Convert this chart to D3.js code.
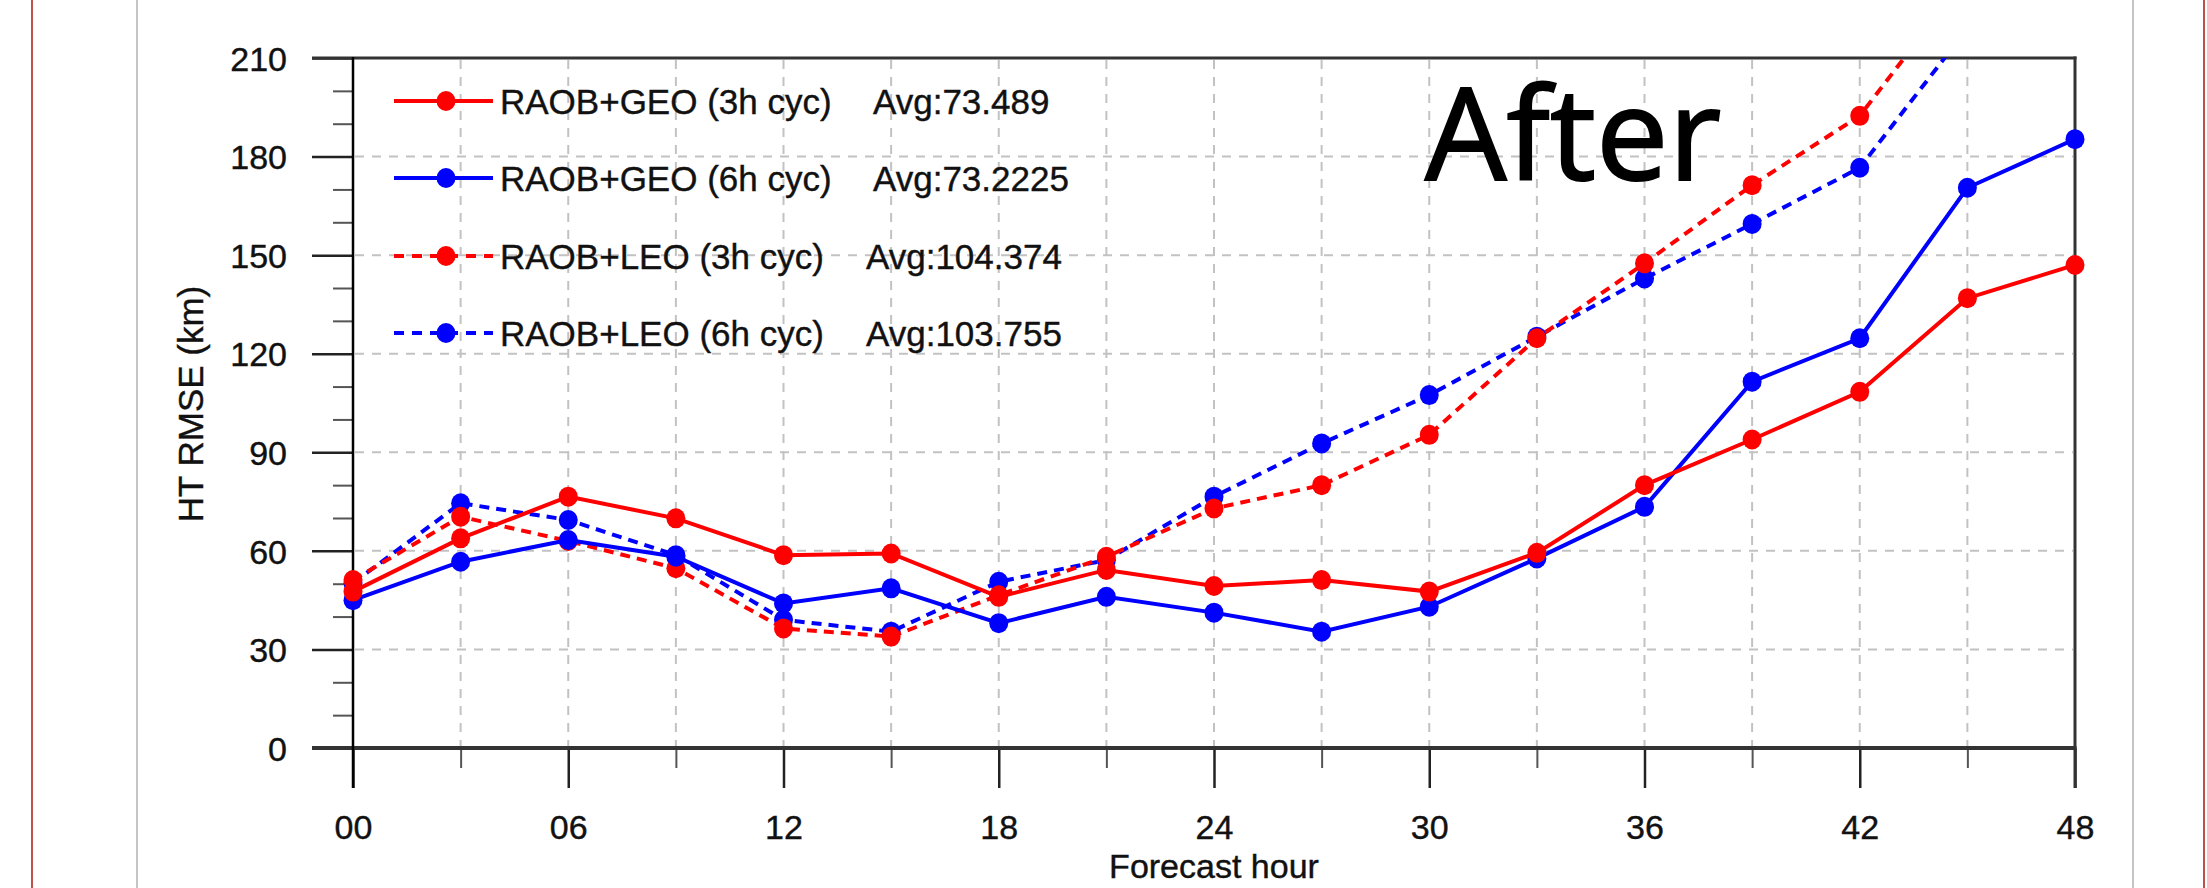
<!DOCTYPE html>
<html><head><meta charset="utf-8">
<script src="https://cdn.jsdelivr.net/npm/d3@7"></script>
<style>body{margin:0;background:#fff}svg{display:block}</style>
</head><body>
<svg id="chart" width="2207" height="888"></svg>
<script>
// ---- data ----
const hours = [0,3,6,9,12,15,18,21,24,27,30,33,36,39,42,45,48];
const geo3h = [47.6,63.8,76.5,69.9,58.7,59.2,46.0,54.2,49.3,51.1,47.6,59.4,80.0,93.9,108.4,136.9,147.0];
const geo6h = [45.0,56.7,63.3,58.2,44.0,48.6,38.0,46.0,41.2,35.4,43.0,57.7,73.4,111.5,124.7,170.5,185.3];
const leo3h = [51.1,70.4,63.0,54.7,36.4,33.9,46.5,58.2,72.9,80.0,95.3,124.7,147.5,171.3,192.4,235,241];
const leo6h = [50.2,74.5,69.4,58.7,39.0,35.4,50.6,57.2,76.5,92.7,107.4,125.2,142.9,159.5,176.6,219,229];
const seriesNames = ["RAOB+GEO (3h cyc)","RAOB+GEO (6h cyc)","RAOB+LEO (3h cyc)","RAOB+LEO (6h cyc)"];
const seriesAvg = ["Avg:73.489","Avg:73.2225","Avg:104.374","Avg:103.755"];
const yTicks = [0,30,60,90,120,150,180,210];
const yMinor = [10,20,40,50,70,80,100,110,130,140,160,170,190,200];
const xMajor = [0,6,12,18,24,30,36,42,48];
const xTickLabels = ["00","06","12","18","24","30","36","42","48"];
const xMinor = [3,9,15,21,27,33,39,45];
const yTitle = "HT RMSE (km)";
const xTitle = "Forecast hour";
const title = "After";

// ---- setup ----
const svg = d3.select("#chart");
const L = 353, R = 2075, T = 58, B = 748;
const x = d3.scaleLinear().domain([0,48]).range([L,R]);
const y = d3.scaleLinear().domain([0,210]).range([B,T]);
const FONT = "'Liberation Sans', Arial, Helvetica, sans-serif";

// page decorations
svg.append("line").attr("x1",32).attr("x2",32).attr("y1",0).attr("y2",888).attr("stroke","#c0504d").attr("stroke-width",2);
svg.append("line").attr("x1",2204).attr("x2",2204).attr("y1",0).attr("y2",888).attr("stroke","#c0504d").attr("stroke-width",2);
svg.append("line").attr("x1",137).attr("x2",137).attr("y1",0).attr("y2",888).attr("stroke","#c4c4c4").attr("stroke-width",2);
svg.append("line").attr("x1",2133).attr("x2",2133).attr("y1",0).attr("y2",888).attr("stroke","#c4c4c4").attr("stroke-width",2);

// grid
const grid = svg.append("g");
grid.selectAll(".vg").data(xMinor.concat(xMajor.filter(d=>d>0&&d<48))).enter().append("line")
  .attr("x1",d=>x(d)).attr("x2",d=>x(d)).attr("y1",T+2).attr("y2",B-2)
  .attr("stroke","#c2c2c2").attr("stroke-width",2).attr("stroke-dasharray","9,8");
grid.selectAll(".hg").data(yTicks.filter(d=>d>0&&d<210)).enter().append("line")
  .attr("x1",L+2).attr("x2",R-2).attr("y1",d=>y(d)).attr("y2",d=>y(d))
  .attr("stroke","#c2c2c2").attr("stroke-width",2).attr("stroke-dasharray","9,8");

// axes (ticks)
const yAxis = svg.append("g").attr("transform",`translate(${L},0)`)
  .call(d3.axisLeft(y).tickValues(yTicks).tickSize(41).tickPadding(25).tickFormat(d3.format("d")));
const yAxisMinor = svg.append("g").attr("transform",`translate(${L},0)`)
  .call(d3.axisLeft(y).tickValues(yMinor).tickSize(20).tickFormat(""));
const xAxis = svg.append("g").attr("transform",`translate(0,${B})`)
  .call(d3.axisBottom(x).tickValues(xMajor).tickSize(40).tickPadding(27).tickFormat((d,i)=>xTickLabels[i]));
const xAxisMinor = svg.append("g").attr("transform",`translate(0,${B})`)
  .call(d3.axisBottom(x).tickValues(xMinor).tickSize(20).tickFormat(""));
[yAxis,yAxisMinor,xAxis,xAxisMinor].forEach(g=>{
  g.select(".domain").remove();
  g.selectAll(".tick line").attr("stroke","#222").attr("stroke-width",2.5);
  g.selectAll("text").attr("font-family",FONT).attr("font-size",34).attr("fill","#111")
    .attr("stroke","#111").attr("stroke-width",0.4);
});
yAxisMinor.selectAll(".tick line").attr("stroke","#555").attr("stroke-width",2);
xAxisMinor.selectAll(".tick line").attr("stroke","#555").attr("stroke-width",2);
yAxis.selectAll("text").attr("dy","0.36em");

// frame
svg.append("line").attr("x1",L-41).attr("x2",R+1.5).attr("y1",T).attr("y2",T).attr("stroke","#333").attr("stroke-width",3);
svg.append("line").attr("x1",L-41).attr("x2",R+1.5).attr("y1",B).attr("y2",B).attr("stroke","#333").attr("stroke-width",4);
svg.append("line").attr("x1",L).attr("x2",L).attr("y1",T-1).attr("y2",B+40).attr("stroke","#000").attr("stroke-width",2.5);
svg.append("line").attr("x1",R).attr("x2",R).attr("y1",T-1.5).attr("y2",B+40).attr("stroke","#333").attr("stroke-width",3);

// axis titles
svg.append("text").attr("transform","translate(203,404) rotate(-90)").attr("text-anchor","middle")
  .attr("font-family",FONT).attr("font-size",35).attr("fill","#111").attr("stroke","#111").attr("stroke-width",0.4).text(yTitle);
svg.append("text").attr("x",(L+R)/2).attr("y",878).attr("text-anchor","middle")
  .attr("font-family",FONT).attr("font-size",34).attr("fill","#111").attr("stroke","#111").attr("stroke-width",0.4).text(xTitle);

// title
svg.append("text").attr("x",1425).attr("y",180).attr("font-family","'Open Sans', Carlito, Calibri, sans-serif")
  .attr("font-size",129).attr("fill","#000").attr("stroke","#000").attr("stroke-width",2).text(title);

// series
const series = [
  {vals: leo6h, color:"#0000ff", dash:"10,7", idx:3},
  {vals: leo3h, color:"#ff0000", dash:"10,7", idx:2},
  {vals: geo6h, color:"#0000ff", dash:null, idx:1},
  {vals: geo3h, color:"#ff0000", dash:null, idx:0}
];
svg.append("clipPath").attr("id","plotclip").append("rect")
  .attr("x",L).attr("y",T).attr("width",R-L).attr("height",B-T);
const line = d3.line().x(d=>x(d[0])).y(d=>y(d[1])).defined(d=>d[1]!=null);
const plot = svg.append("g");
series.forEach(s=>{
  const pts = hours.map((h,i)=>[h,s.vals[i]]);
  plot.append("path").datum(pts).attr("d",line).attr("fill","none")
    .attr("stroke",s.color).attr("stroke-width",4)
    .attr("stroke-dasharray",s.dash).attr("clip-path","url(#plotclip)");
  plot.selectAll(null).data(pts.filter(p=>p[1]!=null && p[1]<=210)).enter().append("ellipse")
    .attr("cx",d=>x(d[0])).attr("cy",d=>y(d[1])).attr("rx",9.5).attr("ry",10).attr("fill",s.color);
});

// legend
const legRows = [101,178,256,333];
const legStyle = [
  {color:"#ff0000",dash:null,avgX:873},
  {color:"#0000ff",dash:null,avgX:873},
  {color:"#ff0000",dash:"10,8",avgX:866},
  {color:"#0000ff",dash:"10,8",avgX:866}
];
const leg = svg.append("g");
seriesNames.forEach((name,i)=>{
  const yy = legRows[i], st = legStyle[i];
  leg.append("line").attr("x1",394).attr("x2",493).attr("y1",yy).attr("y2",yy)
    .attr("stroke",st.color).attr("stroke-width",4).attr("stroke-dasharray",st.dash);
  leg.append("ellipse").attr("cx",446).attr("cy",yy).attr("rx",9.5).attr("ry",10).attr("fill",st.color);
  leg.append("text").attr("x",500).attr("y",yy).attr("dy","0.36em")
    .attr("font-family",FONT).attr("font-size",35).attr("fill","#111").attr("stroke","#111").attr("stroke-width",0.4).text(name);
  leg.append("text").attr("x",st.avgX).attr("y",yy).attr("dy","0.36em")
    .attr("font-family",FONT).attr("font-size",35).attr("fill","#111").attr("stroke","#111").attr("stroke-width",0.4).text(seriesAvg[i]);
});
</script>
</body></html>
